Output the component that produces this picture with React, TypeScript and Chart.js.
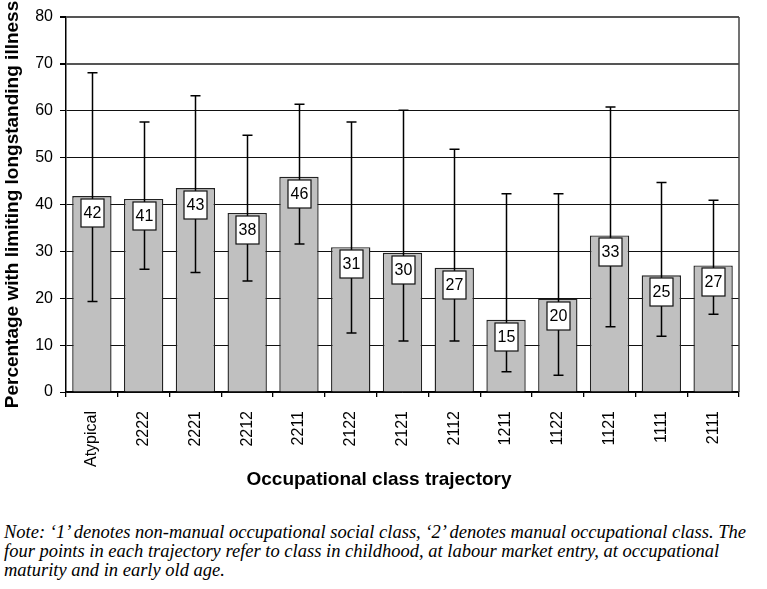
import React, { useEffect, useRef } from "react";
import { Chart, registerables } from "chart.js";

Chart.register(...registerables);

const categories = ["Atypical", "2222", "2221", "2212", "2211", "2122", "2121", "2112", "1211", "1122", "1121", "1111", "2111"];
const values = [41.8, 41.2, 43.5, 38.2, 45.9, 30.9, 29.7, 26.5, 15.4, 19.9, 33.4, 24.9, 27.0];
const valueLabels = ["42", "41", "43", "38", "46", "31", "30", "27", "15", "20", "33", "25", "27"];
const errorHigh = [68.1, 57.6, 63.2, 54.8, 61.4, 57.6, 60.1, 51.8, 42.3, 42.3, 60.8, 44.7, 40.9];
const errorLow = [19.3, 26.2, 25.5, 23.7, 31.6, 12.6, 10.9, 10.9, 4.3, 3.6, 13.9, 11.9, 16.6];
const yMin = 0;
const yMax = 80;
const yStep = 10;

const yTitle = "Percentage with limiting longstanding illness";
const xTitle = "Occupational class trajectory";
const noteLines = [
  "Note: \u20181\u2019 denotes non-manual occupational social class, \u20182\u2019 denotes manual occupational class. The",
  "four points in each trajectory refer to class in childhood, at labour market entry, at occupational",
  "maturity and in early old age.",
];

const SANS = "'Liberation Sans', Arial, Helvetica, sans-serif";

export default function App() {
  const ref = useRef<HTMLCanvasElement | null>(null);

  useEffect(() => {
    document.body.style.margin = "0";
    const canvas = ref.current;
    if (!canvas) return;

    const overlay = {
      id: "errorBarsAndBoxes",
      beforeDatasetsDraw(chart: any) {
        const { ctx, chartArea } = chart;
        ctx.save();
        ctx.strokeStyle = "#444";
        ctx.lineWidth = 1.5;
        ctx.beginPath();
        ctx.moveTo(chartArea.right, chartArea.top);
        ctx.lineTo(chartArea.right, chartArea.bottom);
        ctx.stroke();
        ctx.restore();
      },
      afterDatasetsDraw(chart: any) {
        const ctx = chart.ctx;
        const meta = chart.getDatasetMeta(0);
        const ys = chart.scales.y;
        ctx.save();
        meta.data.forEach((bar: any, i: number) => {
          const x = Math.round(bar.x) + 0.5;
          const yHi = ys.getPixelForValue(errorHigh[i]);
          const yLo = ys.getPixelForValue(errorLow[i]);
          ctx.strokeStyle = "#000";
          ctx.lineWidth = 1.5;
          ctx.beginPath();
          ctx.moveTo(x, yHi);
          ctx.lineTo(x, yLo);
          ctx.moveTo(x - 5, yHi);
          ctx.lineTo(x + 5, yHi);
          ctx.moveTo(x - 5, yLo);
          ctx.lineTo(x + 5, yLo);
          ctx.stroke();
        });
        meta.data.forEach((bar: any, i: number) => {
          const x = Math.round(bar.x) + 0.5;
          const bw = 23;
          const bh = 28;
          const top = Math.round(bar.y) + 3;
          ctx.fillStyle = "#fff";
          ctx.fillRect(x - bw / 2, top, bw, bh);
          ctx.strokeStyle = "#111";
          ctx.lineWidth = 1.2;
          ctx.strokeRect(x - bw / 2, top, bw, bh);
          ctx.fillStyle = "#000";
          ctx.font = `16px ${SANS}`;
          ctx.textAlign = "center";
          ctx.textBaseline = "middle";
          ctx.fillText(valueLabels[i], x, top + bh / 2 + 1);
        });
        ctx.restore();
      },
      afterDraw(chart: any) {
        const ctx = chart.ctx;
        ctx.save();
        ctx.fillStyle = "#000";
        ctx.font = `bold 19px ${SANS}`;
        ctx.textAlign = "center";
        ctx.textBaseline = "middle";
        ctx.fillText(xTitle, 379, 480);
        ctx.restore();
      },
    };

    const chart = new Chart(canvas, {
      type: "bar",
      data: {
        labels: categories,
        datasets: [
          {
            data: values,
            backgroundColor: "#c0c0c0",
            borderColor: "#222",
            borderWidth: 1.4,
            barPercentage: 0.76,
            categoryPercentage: 1,
          },
        ],
      },
      options: {
        responsive: false,
        animation: false,
        devicePixelRatio: 1,
        layout: { padding: { top: 17, right: 28, bottom: 0, left: 0 } },
        plugins: {
          legend: { display: false },
          tooltip: { enabled: false },
        },
        scales: {
          x: {
            offset: true,
            grid: {
              offset: true,
              drawOnChartArea: false,
              drawTicks: true,
              tickLength: 5,
              color: "#000",
              tickColor: "#000",
              lineWidth: 1.3,
            },
            border: { display: true, color: "#000", width: 1.5 },
            ticks: {
              autoSkip: false,
              minRotation: 90,
              maxRotation: 90,
              padding: 14,
              color: "#000",
              font: { family: SANS, size: 16 },
            },
            title: { display: false, text: xTitle },
            afterFit(scale: any) {
              scale.height = 113;
            },
          },
          y: {
            min: yMin,
            max: yMax,
            ticks: {
              stepSize: yStep,
              padding: 7,
              color: "#000",
              font: { family: SANS, size: 16 },
            },
            grid: {
              color: (c: any) => (c.tick && c.tick.value >= 70 ? "#555" : "#111"),
              lineWidth: (c: any) => (c.tick && c.tick.value >= 70 ? 2 : 1),
              tickColor: "#000",
              tickLength: 6,
              drawTicks: true,
            },
            border: { display: true, color: "#000", width: 1.5 },
            title: {
              display: true,
              text: yTitle,
              color: "#000",
              font: { family: SANS, size: 19, weight: "bold" },
              padding: { top: 1, bottom: 0 },
            },
            afterFit(scale: any) {
              scale.width = 66;
            },
          },
        },
      },
      plugins: [overlay],
    });

    return () => {
      chart.destroy();
    };
  }, []);

  return (
    <div style={{ position: "relative", width: 767, height: 589, background: "#fff", overflow: "hidden" }}>
      <canvas ref={ref} width={767} height={505} style={{ display: "block", width: 767, height: 505 }} />
      <div
        style={{
          position: "absolute",
          left: 4,
          top: 523,
          fontFamily: "'Liberation Serif', 'Times New Roman', serif",
          fontStyle: "italic",
          fontSize: 18.5,
          lineHeight: "19px",
          color: "#000",
          whiteSpace: "nowrap",
        }}
      >
        {noteLines.map((l, i) => (
          <div key={i}>{l}</div>
        ))}
      </div>
    </div>
  );
}
